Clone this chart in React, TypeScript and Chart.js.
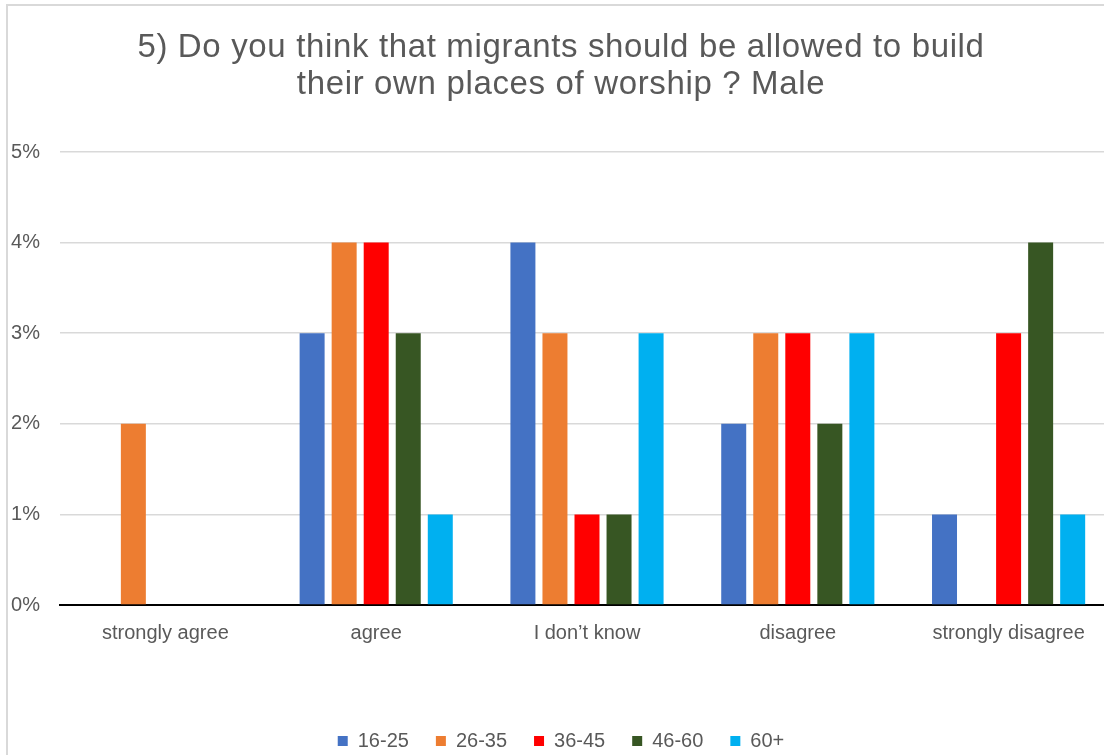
import React, { useEffect, useRef } from "react";
import { Chart, registerables } from "chart.js";

Chart.register(...registerables);

const categories = ["strongly agree", "agree", "I don\u2019t know", "disagree", "strongly disagree"];
const seriesNames = ["16-25", "26-35", "36-45", "46-60", "60+"];
const s16_25 = [0, 3, 4, 2, 1];
const s26_35 = [2, 4, 3, 3, 0];
const s36_45 = [0, 4, 1, 3, 3];
const s46_60 = [0, 3, 1, 2, 4];
const s60plus = [0, 1, 3, 3, 1];
const seriesColors = ["#4472C4", "#ED7D31", "#FF0000", "#375623", "#00B0F0"];
const yTicks = [0, 1, 2, 3, 4, 5];
const titleLines = [
  "5) Do you think that migrants should be allowed to build",
  "their own places of worship ? Male",
];

const FONT = "'Liberation Sans', Arial, sans-serif";

const titlePlugin = {
  id: "spacedTitle",
  afterDraw(chart: any) {
    const ctx = chart.ctx as CanvasRenderingContext2D;
    ctx.save();
    ctx.font = `33px ${FONT}`;
    ctx.fillStyle = "#595959";
    ctx.textAlign = "center";
    ctx.textBaseline = "alphabetic";
    try {
      (ctx as any).letterSpacing = "0.65px";
    } catch (e) {}
    const cx = chart.width / 2;
    ctx.fillText(titleLines[0], cx, 51);
    ctx.fillText(titleLines[1], cx, 88);
    ctx.restore();
  },
};

export default function App() {
  const ref = useRef<HTMLCanvasElement>(null);
  useEffect(() => {
    if (!ref.current) return;
    const values = [s16_25, s26_35, s36_45, s46_60, s60plus];
    const chart = new Chart(ref.current, {
      type: "bar",
      data: {
        labels: categories,
        datasets: seriesNames.map((n, i) => ({
          label: n,
          data: values[i],
          backgroundColor: seriesColors[i],
          borderWidth: 0,
          categoryPercentage: 0.76,
          barPercentage: 0.78,
        })),
      },
      options: {
        responsive: false,
        animation: false,
        devicePixelRatio: 1,
        layout: { padding: { left: 0, right: 0, top: 146, bottom: 0 } },
        plugins: {
          title: { display: false },
          legend: {
            position: "bottom",
            labels: {
              color: "#595959",
              font: { family: FONT, size: 20 },
              boxWidth: 10,
              boxHeight: 10,
              padding: 27,
            },
          },
          tooltip: { enabled: false },
        },
        scales: {
          x: {
            grid: { display: false },
            border: { color: "#000000", width: 2 },
            ticks: { color: "#595959", font: { family: FONT, size: 20 }, padding: 8, maxRotation: 0 },
            afterFit: (scale: any) => {
              scale.height = 99;
            },
          },
          y: {
            min: 0,
            max: 5,
            afterBuildTicks: (scale: any) => {
              scale.ticks = yTicks.map((v) => ({ value: v }));
            },
            afterFit: (scale: any) => {
              scale.width = 52;
            },
            grid: { color: "#d9d9d9", lineWidth: 1.5, drawTicks: false },
            border: { display: false },
            ticks: {
              color: "#595959",
              font: { family: FONT, size: 20 },
              padding: 20,
              callback: (v: any) => v + "%",
            },
          },
        },
      },
      plugins: [titlePlugin],
    });
    return () => chart.destroy();
  }, []);
  return (
    <div style={{ position: "absolute", left: 0, top: 0, width: 1104, height: 755, overflow: "hidden", background: "#fff" }}>
      <div style={{ position: "absolute", left: 6, top: 4, width: 1130, height: 800, border: "2px solid #d9d9d9", background: "#fff" }}>
        <canvas ref={ref} width={1106} height={755} style={{ position: "absolute", left: 0, top: 0, width: 1106, height: 755 }} />
      </div>
    </div>
  );
}
